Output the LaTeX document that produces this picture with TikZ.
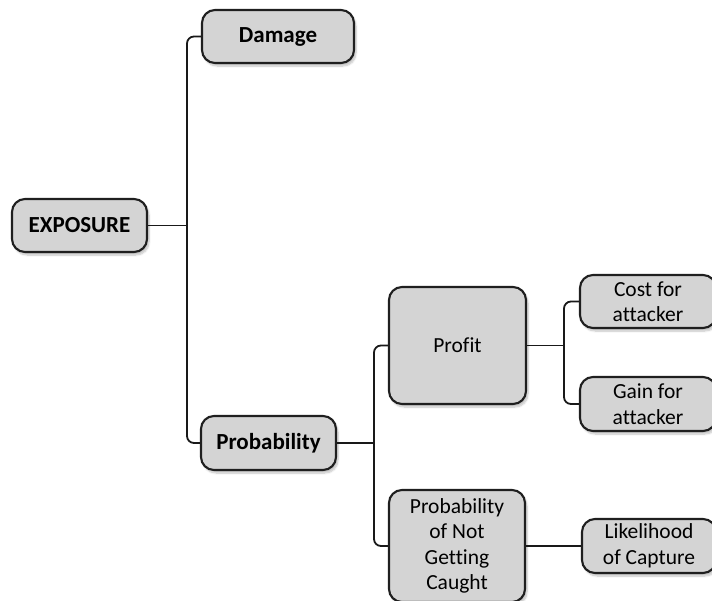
\documentclass[tikz,border=0pt]{standalone}
\usepackage{fontspec}
\setmainfont[Ligatures=NoCommon]{Carlito}
\usetikzlibrary{shadows.blur}
\begin{document}
\begin{tikzpicture}[x=1pt,y=-1pt,
  box/.style={draw=black!88, line width=2.1pt, fill=black!17, rounded corners=13pt,
    align=center, inner sep=0pt,
    font=\fontsize{21.5}{25.5}\selectfont,
    blur shadow={shadow xshift=2pt, shadow yshift=-3pt, shadow blur steps=6, shadow opacity=25}},
  bbox/.style={box, font=\fontsize{23}{26}\selectfont\bfseries},
  conn/.style={draw=black!90, line width=1.8pt, rounded corners=7pt}]
\useasboundingbox (0,0) rectangle (712,600);

% nodes
\node[bbox, minimum width=135pt, minimum height=53pt] (exposure) at (79.5,225.5) {EXPOSURE};
\node[bbox, minimum width=152pt, minimum height=53pt] (damage) at (278,36.5) {Damage};
\node[bbox, minimum width=135pt, minimum height=54pt] (prob) at (268.5,443) {Probability};
\node[box, minimum width=137pt, minimum height=117pt] (profit) at (457.5,345.5) {Profit};
\node[box, minimum width=136pt, minimum height=112pt] (notcaught) at (457,546) {Probability\\of Not\\Getting\\Caught};
\node[box, minimum width=136pt, minimum height=53pt] (cost) at (648,301.5) {Cost for\\attacker};
\node[box, minimum width=136pt, minimum height=54pt] (gain) at (648,404) {Gain for\\attacker};
\node[box, minimum width=134pt, minimum height=54pt] (capture) at (649,546) {Likelihood\\of Capture};

% junction points of the branch lines
\coordinate (j1) at (187,225.5);
\coordinate (j2) at (374,443);
\coordinate (j3) at (564,345.5);

% connectors
\draw[conn] (exposure.east) -- (j1);
\draw[conn] (damage.west) -| (j1) |- (prob.west);
\draw[conn] (prob.east) -- (j2);
\draw[conn] (profit.west) -| (j2) |- (notcaught.west);
\draw[conn] (profit.east) -- (j3);
\draw[conn] (cost.west) -| (j3) |- (gain.west);
\draw[conn] (notcaught.east) -- (capture.west);
\end{tikzpicture}
\end{document}
